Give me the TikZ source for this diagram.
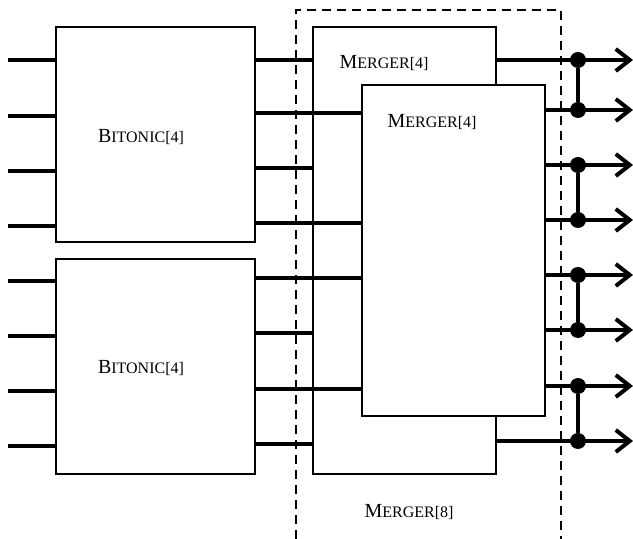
\documentclass[tikz,border=0pt]{standalone}
\usepackage{fontspec}
\setmainfont{Liberation Serif}
\usetikzlibrary{arrows.meta}

\newcommand{\fsc}[2]{#1{\footnotesize #2}}

\begin{document}
\begin{tikzpicture}[x=0.5pt, y=-0.5pt,
    box/.style = {draw, line width=1.2pt, fill=white, inner sep=0pt, outer sep=0pt},
    wire/.style = {line width=2pt},
    outw/.style = {wire, -{Straight Barb[length=7pt,width=11pt]}},
    dot/.style = {circle, fill, inner sep=0pt, minimum size=8pt},
    txt/.style = {inner sep=0pt}]
    \useasboundingbox (0,0) rectangle (633,539);

    % the two bitonic sorters
    \node[box, minimum width=99.5pt, minimum height=107.5pt] (b1) at (155.5,134.5) {};
    \node[box, minimum width=99.5pt, minimum height=107.5pt] (b2) at (155.5,366.5) {};
    \node[txt] (t1) at (141,137) {\fsc{B}{ITONIC[4]}};
    \node[txt] (t2) at (141,368) {\fsc{B}{ITONIC[4]}};

    % inputs
    \foreach \y [count=\i] in {60,116,171,226} {
        \coordinate (i\i) at (8,\y);
        \draw[wire] (i\i) -- (b1.west |- i\i);
    }
    \foreach \y [count=\i from 5] in {281,336,391,446} {
        \coordinate (i\i) at (8,\y);
        \draw[wire] (i\i) -- (b2.west |- i\i);
    }

    % merger boxes (outer one first)
    \node[box, minimum width=91.5pt, minimum height=223.5pt] (m1) at (404.5,250.5) {};

    % wires into the outer merger
    \foreach \b/\y in {b1/60, b1/168, b2/333, b2/444}
        \draw[wire] (\b.east |- 0,\y) -- (m1.west |- 0,\y);
    % wires into the inner merger (pass under outer merger)
    \foreach \b/\y in {b1/113, b1/223, b2/278, b2/389}
        \draw[wire] (\b.east |- 0,\y) -- (362,\y);

    \node[box, minimum width=91.5pt, minimum height=165.5pt] (m2) at (453.5,250.5) {};
    \node[txt] (t3) at (384,63) {\fsc{M}{ERGER[4]}};
    \node[txt] (t4) at (432,122) {\fsc{M}{ERGER[4]}};
    \node[txt] (t5) at (409,512) {\fsc{M}{ERGER[8]}};

    % outer dashed frame
    \draw[line width=1.2pt, dash pattern=on 4.5pt off 3pt] (296,539) -- (296,10) -- (561,10) -- (561,539);

    % outputs
    \foreach \b/\y [count=\i] in {m1/60, m2/110, m2/165, m2/220, m2/275, m2/330, m2/386, m1/441} {
        \coordinate (o\i) at (633,\y);
        \draw[outw] (\b.east |- o\i) -- (o\i);
        \node[dot] (d\i) at (578,\y) {};
    }

    % comparators
    \foreach \a/\b in {1/2, 3/4, 5/6, 7/8}
        \draw[wire] (d\a) -- (d\b);
\end{tikzpicture}
\end{document}
